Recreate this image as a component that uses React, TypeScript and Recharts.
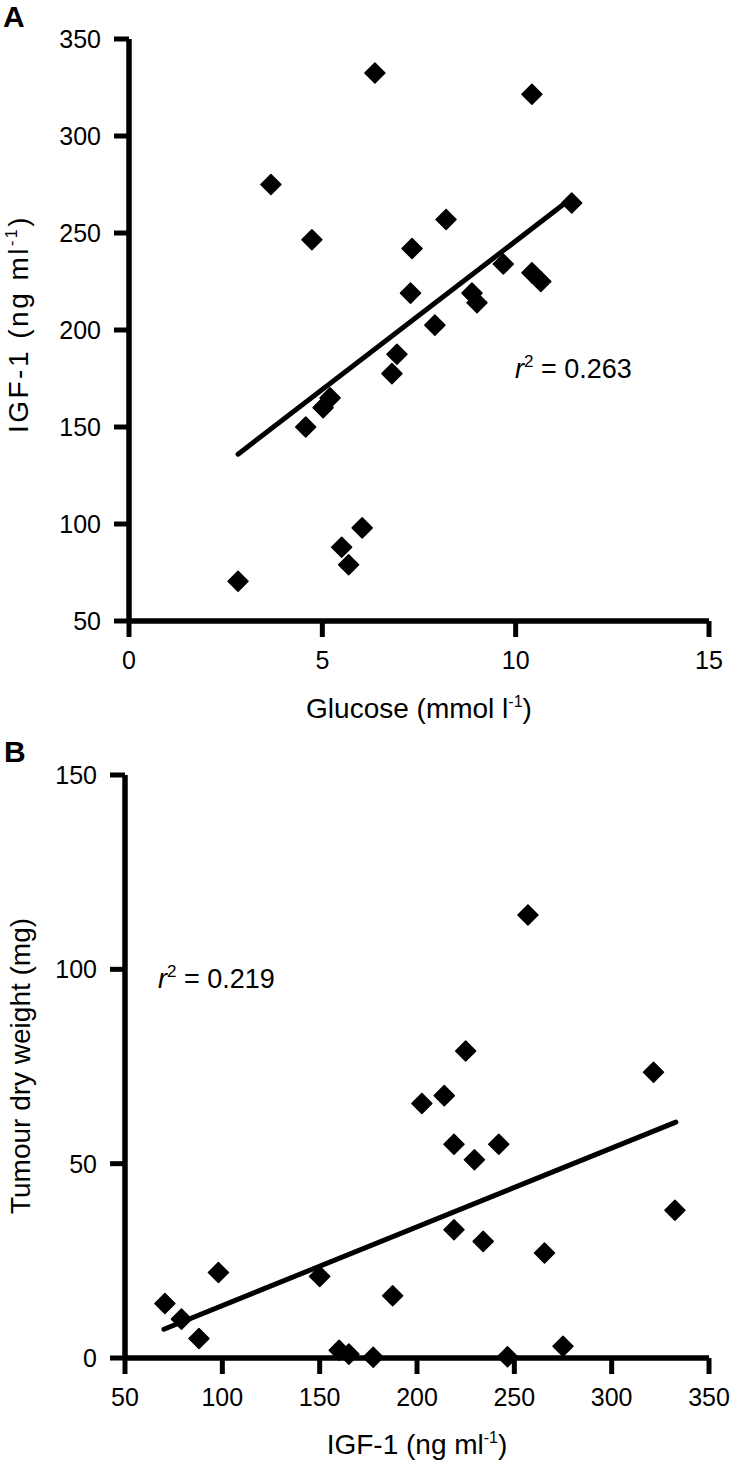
import React from 'react';
import { ScatterChart, Scatter, XAxis, YAxis, ReferenceLine } from 'recharts';

// Per-animal values (same animal order in all arrays)
const glucose = [2.82, 5.68, 5.5, 6.03, 4.57, 5.02, 5.2, 6.8, 6.93, 7.91, 7.28, 8.87, 9.0, 9.68, 10.42, 10.65, 7.32, 4.73, 8.2, 11.45, 3.67, 10.42, 6.36];
const igf1 = [70.5, 79, 88, 98, 150, 160, 165, 177.5, 187.5, 202.5, 219, 219, 214, 234, 229.5, 225, 242, 246.5, 257, 265.5, 275, 321.5, 332.5];
const tumour = [14, 10, 5, 22, 21, 2, 1, 0.2, 16, 65.5, 33, 55, 67.5, 30, 51, 79, 55, 0.3, 114, 27, 3, 73.5, 38];

// Regression line end points
const fitAx = [2.82, 11.45];
const fitAy = [136, 268];
const fitBx = [70, 333];
const fitBy = [7.4, 60.7];

const glucoseDomain = [0, 15];
const igfDomainA = [50, 350];
const igfDomainB = [50, 350];
const tumourDomain = [0, 150];
const glucoseTicks = [0, 5, 10, 15];
const igfTicksA = [50, 100, 150, 200, 250, 300, 350];
const igfTicksB = [50, 100, 150, 200, 250, 300, 350];
const tumourTicks = [0, 50, 100, 150];

const dataA = glucose.map((g, i) => ({ x: g, y: igf1[i] }));
const dataB = igf1.map((v, i) => ({ x: v, y: tumour[i] }));

const FONT = '"Liberation Sans", Arial, Helvetica, sans-serif';

const Diamond = (props: any) => {
  const { cx, cy } = props;
  if (cx == null || cy == null) return null;
  const r = 10;
  return (
    <path
      d={`M${cx},${cy - r}L${cx + r},${cy}L${cx},${cy + r}L${cx - r},${cy}Z`}
      fill="#000"
      stroke="#000"
      strokeWidth={1.5}
      strokeLinejoin="round"
    />
  );
};

const axisLine = { stroke: '#000', strokeWidth: 5 };
const tickLine = { stroke: '#000', strokeWidth: 5 };
const tickStyle = { fill: '#000', fontSize: 25, fontFamily: FONT, stroke: 'none' };

const AxisFrame = (xd: number[], yd: number[]) => [
  <ReferenceLine
    key="ax-x"
    segment={[{ x: xd[0], y: yd[0] }, { x: xd[1], y: yd[0] }]}
    stroke="#000"
    strokeWidth={5}
    ifOverflow="visible"
  />,
  <ReferenceLine
    key="ax-y"
    segment={[{ x: xd[0], y: yd[0] }, { x: xd[0], y: yd[1] }]}
    stroke="#000"
    strokeWidth={5}
    ifOverflow="visible"
  />,
];

const css = `
.recharts-cartesian-axis-tick-line { stroke: #000; stroke-width: 5px; }
.recharts-cartesian-axis-line { stroke: #000; stroke-width: 5px; }
`;

export default function App() {
  return (
    <div style={{ position: 'absolute', left: 0, top: 0, width: 733, height: 1462, background: '#fff', overflow: 'hidden' }}>
      <style>{css}</style>
      <div style={{ position: 'absolute', left: 0, top: 0 }}>
        <ScatterChart width={733} height={740} margin={{ top: 39, right: 24, bottom: 0, left: 0 }}>
          <XAxis
            type="number"
            dataKey="x"
            domain={glucoseDomain}
            ticks={glucoseTicks}
            height={119}
            stroke="#000"
            strokeWidth={5}
            axisLine={axisLine}
            tickLine={tickLine}
            tickSize={16}
            tickMargin={14}
            tick={tickStyle}
          />
          <YAxis
            type="number"
            dataKey="y"
            domain={igfDomainA}
            ticks={igfTicksA}
            width={129}
            stroke="#000"
            strokeWidth={5}
            axisLine={axisLine}
            tickLine={tickLine}
            tickSize={15}
            tickMargin={13}
            tick={tickStyle}
          />
          {AxisFrame(glucoseDomain, igfDomainA)}
          <ReferenceLine
            segment={[{ x: fitAx[0], y: fitAy[0] }, { x: fitAx[1], y: fitAy[1] }]}
            stroke="#000"
            strokeWidth={5}
            strokeLinecap="round"
            ifOverflow="visible"
          />
          <Scatter data={dataA} shape={Diamond} isAnimationActive={false} />
        </ScatterChart>
      </div>
      <div style={{ position: 'absolute', left: 0, top: 740 }}>
        <ScatterChart width={733} height={722} margin={{ top: 35, right: 24, bottom: 0, left: 0 }}>
          <XAxis
            type="number"
            dataKey="x"
            domain={igfDomainB}
            ticks={igfTicksB}
            height={104}
            stroke="#000"
            strokeWidth={5}
            axisLine={axisLine}
            tickLine={tickLine}
            tickSize={16}
            tickMargin={14}
            tick={tickStyle}
          />
          <YAxis
            type="number"
            dataKey="y"
            domain={tumourDomain}
            ticks={tumourTicks}
            width={125}
            stroke="#000"
            strokeWidth={5}
            axisLine={axisLine}
            tickLine={tickLine}
            tickSize={15}
            tickMargin={13}
            tick={tickStyle}
          />
          {AxisFrame(igfDomainB, tumourDomain)}
          <ReferenceLine
            segment={[{ x: fitBx[0], y: fitBy[0] }, { x: fitBx[1], y: fitBy[1] }]}
            stroke="#000"
            strokeWidth={5}
            strokeLinecap="round"
            ifOverflow="visible"
          />
          <Scatter data={dataB} shape={Diamond} isAnimationActive={false} />
        </ScatterChart>
      </div>
      <svg
        width={733}
        height={1462}
        style={{ position: 'absolute', left: 0, top: 0, pointerEvents: 'none' }}
        fontFamily={FONT}
        fill="#000"
      >
        <text x={3} y={27} fontSize={30} fontWeight="bold">A</text>
        <text x={4} y={762} fontSize={30} fontWeight="bold">B</text>

        <text x={419} y={718} fontSize={28} textAnchor="middle">
          Glucose (mmol l<tspan dy={-11} fontSize={16}>-1</tspan><tspan dy={11}>)</tspan>
        </text>
        <text x={28} y={324} fontSize={28} textAnchor="middle" letterSpacing={2.5} transform="rotate(-90 28 324)">
          IGF-1  (ng ml<tspan dy={-11} fontSize={16}>-1</tspan><tspan dy={11}>)</tspan>
        </text>
        <text x={515} y={378} fontSize={27}>
          <tspan fontStyle="italic">r</tspan><tspan dy={-11} fontSize={17}>2</tspan><tspan dy={11}> = 0.263</tspan>
        </text>

        <text x={417} y={1454} fontSize={28} textAnchor="middle">
          IGF-1 (ng ml<tspan dy={-11} fontSize={16}>-1</tspan><tspan dy={11}>)</tspan>
        </text>
        <text x={30} y={1066} fontSize={28} textAnchor="middle" transform="rotate(-90 30 1066)">
          Tumour dry weight (mg)
        </text>
        <text x={158} y={988} fontSize={27}>
          <tspan fontStyle="italic">r</tspan><tspan dy={-11} fontSize={17}>2</tspan><tspan dy={11}> = 0.219</tspan>
        </text>
      </svg>
    </div>
  );
}
